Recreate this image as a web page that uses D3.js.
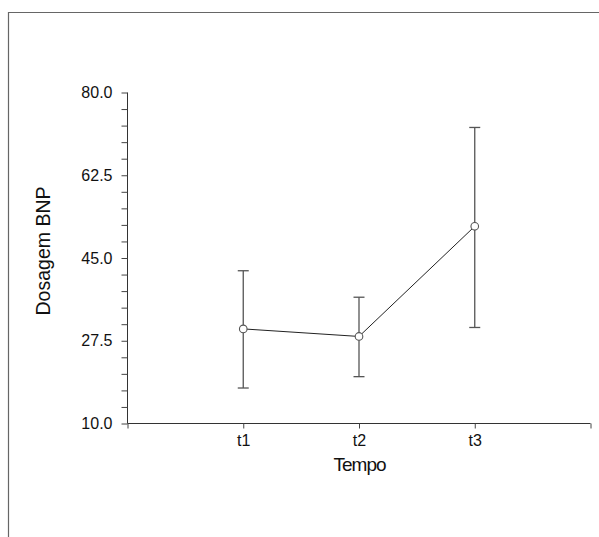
<!DOCTYPE html>
<html>
<head>
<meta charset="utf-8">
<script src="https://cdn.jsdelivr.net/npm/d3@7"></script>
<style>
  body { margin: 0; background: #fff; }
  svg { display: block; font-family: "Liberation Sans", Arial, sans-serif; }
</style>
</head>
<body>
<svg id="chart" width="599" height="537"></svg>
<script>
// data
var categories = ["t1", "t2", "t3"];
var means = [29.9, 28.3, 51.6];
var upper = [42.2, 36.6, 72.5];
var lower = [17.4, 19.8, 30.2];
var yTicks = [10, 27.5, 45, 62.5, 80];

var svg = d3.select("#chart"),
    width = +svg.attr("width"),
    height = +svg.attr("height");

// outer frame (top and left edges only visible)
svg.append("path")
    .attr("d", "M8.5," + height + "V12.5H" + width)
    .attr("fill", "none")
    .attr("stroke", "#666")
    .attr("stroke-width", 1.2);

var x = d3.scaleLinear().domain([0, 4]).range([127, 590]);
var y = d3.scaleLinear().domain([10, 80]).range([423, 92]);

var data = categories.map(function(c, i) {
  return { cat: c, pos: i + 1, mean: means[i], hi: upper[i], lo: lower[i] };
});

// y axis with minor ticks
var yAxis = d3.axisLeft(y)
    .tickValues(d3.range(10, 80.001, 3.5))
    .tickSize(6)
    .tickFormat(function(d) {
      return yTicks.some(function(t) { return Math.abs(t - d) < 1e-6; }) ? d3.format(".1f")(d) : "";
    });

var gy = svg.append("g")
    .attr("transform", "translate(127.5,0.5)")
    .call(yAxis);
gy.select(".domain").attr("stroke", "#333").attr("d", "M0,92V423");
gy.selectAll(".tick line").attr("stroke", "#444");
gy.selectAll(".tick text")
    .attr("x", -15)
    .attr("fill", "#111")
    .style("font-size", "16px")
    .style("font-family", "Liberation Sans, Arial, sans-serif");

// x axis
var xAxis = d3.axisBottom(x)
    .tickValues([0, 1, 2, 3, 4])
    .tickSize(5)
    .tickFormat(function(d) { return categories[d - 1] || ""; });

var gx = svg.append("g")
    .attr("transform", "translate(0.5,423.5)")
    .call(xAxis);
gx.select(".domain").attr("stroke", "#333").attr("d", "M127,0H590");
gx.selectAll(".tick line").attr("stroke", "#444");
gx.selectAll(".tick text")
    .attr("y", 11)
    .attr("fill", "#111")
    .style("font-size", "16px")
    .style("font-family", "Liberation Sans, Arial, sans-serif");

// axis titles
svg.append("text")
    .attr("transform", "translate(50,251) rotate(-90)")
    .attr("text-anchor", "middle")
    .attr("fill", "#111")
    .style("font-size", "19.5px")
    .text("Dosagem BNP");

svg.append("text")
    .attr("x", x(2) + 1)
    .attr("y", 471)
    .attr("text-anchor", "middle")
    .attr("fill", "#111")
    .style("font-size", "19px")
    .style("letter-spacing", "-1px")
    .text("Tempo");

// error bars
var bars = svg.append("g").attr("stroke", "#555").attr("stroke-width", 1.3);
bars.selectAll(".whisker")
    .data(data).enter().append("line")
    .attr("x1", function(d) { return x(d.pos) + 0.5; })
    .attr("x2", function(d) { return x(d.pos) + 0.5; })
    .attr("y1", function(d) { return y(d.hi); })
    .attr("y2", function(d) { return y(d.lo); });
bars.selectAll(".capTop")
    .data(data).enter().append("line")
    .attr("x1", function(d) { return x(d.pos) - 5; })
    .attr("x2", function(d) { return x(d.pos) + 6; })
    .attr("y1", function(d) { return y(d.hi); })
    .attr("y2", function(d) { return y(d.hi); });
bars.selectAll(".capBot")
    .data(data).enter().append("line")
    .attr("x1", function(d) { return x(d.pos) - 5; })
    .attr("x2", function(d) { return x(d.pos) + 6; })
    .attr("y1", function(d) { return y(d.lo); })
    .attr("y2", function(d) { return y(d.lo); });

// mean line
var line = d3.line()
    .x(function(d) { return x(d.pos) + 0.5; })
    .y(function(d) { return y(d.mean); });

svg.append("path")
    .datum(data)
    .attr("d", line)
    .attr("fill", "none")
    .attr("stroke", "#222")
    .attr("stroke-width", 1);

svg.selectAll(".pt")
    .data(data).enter().append("circle")
    .attr("cx", function(d) { return x(d.pos) + 0.5; })
    .attr("cy", function(d) { return y(d.mean); })
    .attr("r", 3.8)
    .attr("fill", "#fff")
    .attr("stroke", "#555")
    .attr("stroke-width", 1.1);
</script>
</body>
</html>
